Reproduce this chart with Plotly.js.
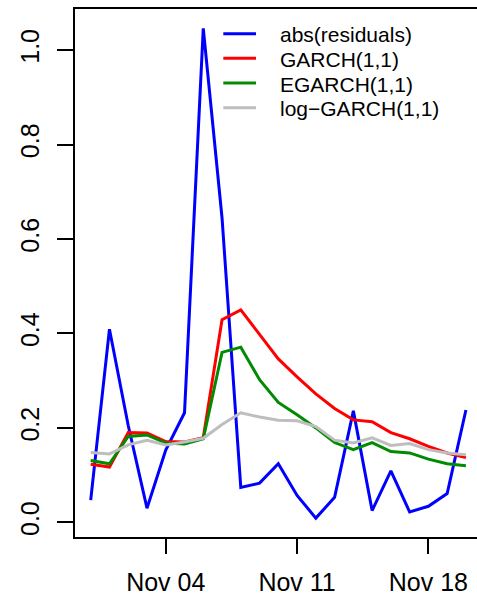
<!DOCTYPE html>
<html>
<head>
<meta charset="utf-8">
<script src="https://cdn.plot.ly/plotly-3.0.1.min.js"></script>
<style>
  html, body { margin: 0; padding: 0; overflow: hidden; background: #fff; }
  #chart { width: 477px; height: 598px; }
</style>
</head>
<body>
<div id="chart"></div>
<script>
// ---- data ----
const dates = ['2013-10-31','2013-11-01','2013-11-02','2013-11-03','2013-11-04','2013-11-05','2013-11-06',
               '2013-11-07','2013-11-08','2013-11-09','2013-11-10','2013-11-11','2013-11-12','2013-11-13',
               '2013-11-14','2013-11-15','2013-11-16','2013-11-17','2013-11-18','2013-11-19','2013-11-20'];
const absResid = [0.047, 0.409, 0.205, 0.030, 0.153, 0.232, 1.046, 0.645, 0.074, 0.083, 0.124,
                  0.057, 0.009, 0.053, 0.236, 0.025, 0.109, 0.022, 0.034, 0.061, 0.238];
const garch    = [0.123, 0.117, 0.190, 0.189, 0.171, 0.170, 0.179, 0.429, 0.450, 0.397, 0.346,
                  0.308, 0.272, 0.241, 0.217, 0.213, 0.190, 0.177, 0.161, 0.147, 0.137];
const egarch   = [0.131, 0.124, 0.182, 0.185, 0.168, 0.166, 0.177, 0.360, 0.371, 0.302, 0.254,
                  0.228, 0.200, 0.169, 0.154, 0.169, 0.150, 0.147, 0.134, 0.124, 0.120];
const logGarch = [0.148, 0.145, 0.164, 0.174, 0.164, 0.170, 0.178, 0.207, 0.232, 0.223, 0.216,
                  0.215, 0.203, 0.174, 0.168, 0.179, 0.163, 0.167, 0.154, 0.147, 0.143];
const seriesNames = ['abs(residuals)', 'GARCH(1,1)', 'EGARCH(1,1)', 'log\u2212GARCH(1,1)'];
const seriesColors = ['#0000FF', '#FF0000', '#008B00', '#BEBEBE'];
const xTickVals = ['2013-11-04', '2013-11-11', '2013-11-18'];
const xTickText = ['Nov 04', 'Nov 11', 'Nov 18'];
const yTickVals = [0, 0.2, 0.4, 0.6, 0.8, 1.0];
const yTickText = ['0.0', '0.2', '0.4', '0.6', '0.8', '1.0'];

// ---- build ----
const FONT = 'Liberation Sans, Arial, Helvetica, sans-serif';
const allSeries = [absResid, garch, egarch, logGarch];
const traces = allSeries.map((ys, i) => ({
  type: 'scatter', mode: 'lines', x: dates, y: ys, name: seriesNames[i],
  line: { color: seriesColors[i], width: 3 }, showlegend: false, hoverinfo: 'skip'
}));

const W = 477, H = 598, ML = 75, MR = 0, MT = 9, MB = 61;
const pw = W - ML - MR, ph = H - MT - MB;
const px2x = px => (px - ML) / pw;
const py2y = py => 1 - (py - MT) / ph;

const legendRowsY = [33.7, 58.3, 83, 107.7];
const shapes = [];
const annotations = [];
seriesNames.forEach((nm, i) => {
  shapes.push({ type: 'line', xref: 'paper', yref: 'paper',
    x0: px2x(223.3), x1: px2x(256), y0: py2y(legendRowsY[i]), y1: py2y(legendRowsY[i]),
    line: { color: seriesColors[i], width: 3 } });
  annotations.push({ xref: 'paper', yref: 'paper', x: px2x(278), y: py2y(legendRowsY[i] + 1),
    xanchor: 'left', yanchor: 'middle', text: nm, showarrow: false,
    font: { family: FONT, size: 21, color: '#000' } });
});

const layout = {
  width: W, height: H,
  margin: { l: ML, r: MR, t: MT, b: MB, pad: 0 },
  paper_bgcolor: '#fff', plot_bgcolor: '#fff',
  font: { family: FONT, color: '#000' },
  showlegend: false,
  xaxis: {
    type: 'date', range: ['2013-10-30 03:55', '2013-11-20 14:10'],
    tickmode: 'array', tickvals: xTickVals, ticktext: xTickText,
    ticks: 'outside', ticklen: 15, tickwidth: 2, tickcolor: '#000',
    ticklabelstandoff: 7,
    showline: true, linewidth: 2, linecolor: '#000', mirror: true,
    showgrid: false, zeroline: false,
    tickfont: { family: FONT, size: 25, color: '#000' }
  },
  yaxis: {
    range: [-0.031, 1.087],
    tickmode: 'array', tickvals: yTickVals, ticktext: yTickText, tickangle: -90,
    ticks: 'outside', ticklen: 16, tickwidth: 2, tickcolor: '#000',
    ticklabelstandoff: 8,
    showline: true, linewidth: 2, linecolor: '#000',
    showgrid: false, zeroline: false,
    tickfont: { family: FONT, size: 25, color: '#000' }
  },
  shapes: shapes,
  annotations: annotations
};

Plotly.newPlot('chart', traces, layout, { displayModeBar: false, staticPlot: true });
</script>
</body>
</html>
